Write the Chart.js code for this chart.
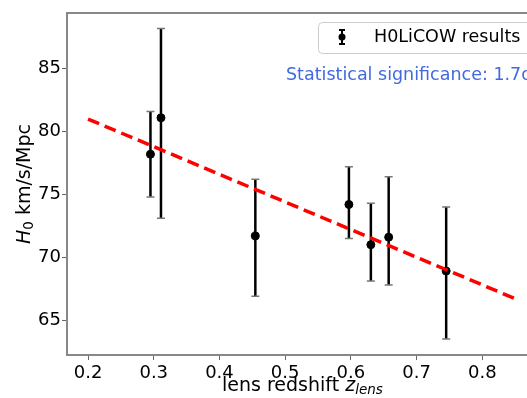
<!DOCTYPE html>
<html>
<head>
<meta charset="utf-8">
<script src="https://cdn.jsdelivr.net/npm/chart.js@4/dist/chart.umd.min.js"></script>
<style>
  html, body { margin: 0; padding: 0; background: #fff; overflow: hidden; }
  #wrap { width: 527px; height: 398px; }
</style>
</head>
<body>
<div id="wrap"><canvas id="h0Chart" width="527" height="398"></canvas></div>
<script>
// H0LiCOW lenses: redshift, H0 and asymmetric errors
const zLens = [0.295, 0.311, 0.4546, 0.597, 0.6304, 0.6575, 0.745];
const h0 = [78.2, 81.1, 71.7, 74.2, 71.0, 71.6, 68.9];
const errUp = [3.4, 7.1, 4.5, 3.0, 3.3, 4.8, 5.1];
const errDown = [3.4, 8.0, 4.8, 2.7, 2.9, 3.8, 5.4];

// fitted trend (red dashed)
const fitZ = [0.2, 0.85];
const fitH0 = [81.0, 66.7];

const xTicks = [0.2, 0.3, 0.4, 0.5, 0.6, 0.7, 0.8];
const yTicks = [65, 70, 75, 80, 85];

const FONT = "'DejaVu Sans', sans-serif";

var errorBars = {
  id: 'errorBars',
  beforeDatasetsDraw(chart) {
    var ctx = chart.ctx;
    var xs = chart.scales.x, ys = chart.scales.y;
    ctx.save();
    for (var i = 0; i < zLens.length; i++) {
      var px = xs.getPixelForValue(zLens[i]);
      var top = ys.getPixelForValue(h0[i] + errUp[i]);
      var bot = ys.getPixelForValue(h0[i] - errDown[i]);
      ctx.strokeStyle = '#000';
      ctx.lineWidth = 2.5;
      ctx.beginPath();
      ctx.moveTo(px, top);
      ctx.lineTo(px, bot);
      ctx.stroke();
      ctx.strokeStyle = '#777';
      ctx.lineWidth = 1.5;
      ctx.beginPath();
      ctx.moveTo(px - 4, top); ctx.lineTo(px + 4, top);
      ctx.moveTo(px - 4, bot); ctx.lineTo(px + 4, bot);
      ctx.stroke();
    }
    ctx.restore();
  }
};

var decorations = {
  id: 'decorations',
  afterDraw(chart) {
    var ctx = chart.ctx;
    var a = chart.chartArea;
    ctx.save();
    // top spine
    ctx.strokeStyle = '#888';
    ctx.lineWidth = 2;
    ctx.beginPath();
    ctx.moveTo(a.left - 1, a.top);
    ctx.lineTo(chart.width, a.top);
    ctx.stroke();

    // legend box
    var lx = 318, ly = 22, lw = 230, lh = 31;
    ctx.fillStyle = 'rgba(255,255,255,0.9)';
    ctx.strokeStyle = '#ccc';
    ctx.lineWidth = 1;
    ctx.beginPath();
    ctx.roundRect(lx + 0.5, ly + 0.5, lw, lh, 4);
    ctx.fill();
    ctx.stroke();
    // legend marker
    var mx = 342, my = 37;
    ctx.strokeStyle = '#000';
    ctx.lineWidth = 2;
    ctx.beginPath();
    ctx.moveTo(mx, my - 7); ctx.lineTo(mx, my + 7);
    ctx.moveTo(mx - 3, my - 7); ctx.lineTo(mx + 3, my - 7);
    ctx.moveTo(mx - 3, my + 7); ctx.lineTo(mx + 3, my + 7);
    ctx.stroke();
    ctx.fillStyle = '#000';
    ctx.beginPath();
    ctx.arc(mx, my, 3.5, 0, Math.PI * 2);
    ctx.fill();
    ctx.font = '17.5px ' + FONT;
    ctx.textBaseline = 'middle';
    ctx.textAlign = 'left';
    ctx.fillText('H0LiCOW results', 374, 37);

    // significance note
    ctx.fillStyle = '#4169E1';
    ctx.font = '17.5px ' + FONT;
    ctx.fillText('Statistical significance: 1.7\u03C3', 286, 75);

    // x axis title
    ctx.fillStyle = '#000';
    var tx = 222, ty = 386;
    ctx.font = '19px ' + FONT;
    ctx.fillText('lens redshift ', tx, ty);
    tx += ctx.measureText('lens redshift ').width;
    ctx.font = 'italic 19px ' + FONT;
    ctx.fillText('z', tx, ty);
    tx += ctx.measureText('z').width;
    ctx.font = 'italic 13.5px ' + FONT;
    ctx.fillText('lens', tx, ty + 4);

    // y axis title (rotated)
    ctx.translate(25, 184);
    ctx.rotate(-Math.PI / 2);
    ctx.font = 'italic 19px ' + FONT;
    var w1 = ctx.measureText('H').width;
    ctx.font = '13.5px ' + FONT;
    var w2 = ctx.measureText('0').width;
    ctx.font = '19px ' + FONT;
    var w3 = ctx.measureText(' km/s/Mpc').width;
    var sx = -(w1 + w2 + w3) / 2;
    ctx.font = 'italic 19px ' + FONT;
    ctx.fillText('H', sx, 0);
    ctx.font = '13.5px ' + FONT;
    ctx.fillText('0', sx + w1, 4);
    ctx.font = '19px ' + FONT;
    ctx.fillText(' km/s/Mpc', sx + w1 + w2, 0);
    ctx.restore();
  }
};

var ctxH0 = document.getElementById('h0Chart').getContext('2d');

var h0Chart = new Chart(ctxH0, {
  type: 'scatter',
  data: {
    datasets: [{
      label: 'H0LiCOW results',
      data: zLens.map((z, i) => ({x: z, y: h0[i]})),
      backgroundColor: '#000',
      borderColor: '#000',
      pointRadius: 4,
      order: 2
    }, {
      type: 'line',
      label: 'fit',
      data: fitZ.map((z, i) => ({x: z, y: fitH0[i]})),
      borderColor: '#ff0000',
      borderWidth: 3.5,
      borderDash: [12, 6],
      pointRadius: 0,
      fill: false,
      order: 1
    }]
  },
  options: {
    responsive: false,
    animation: false,
    layout: { autoPadding: false, padding: { top: 13, left: 0, right: 0, bottom: 0 } },
    plugins: { legend: { display: false }, tooltip: { enabled: false } },
    scales: {
      x: {
        type: 'linear',
        min: 0.168,
        max: 0.868,
        afterFit: (s) => { s.height = 43; },
        afterBuildTicks: (s) => { s.ticks = xTicks.map(v => ({value: v})); },
        ticks: {
          color: '#000',
          font: { family: FONT, size: 18 },
          padding: 3,
          maxRotation: 0,
          callback: (v) => v.toFixed(1)
        },
        grid: { drawOnChartArea: false, drawTicks: true, tickLength: 5, color: '#666' },
        border: { display: true, color: '#888', width: 2 }
      },
      y: {
        min: 62.22,
        max: 89.44,
        afterFit: (s) => { s.width = 67; },
        afterBuildTicks: (s) => { s.ticks = yTicks.map(v => ({value: v})); },
        ticks: {
          color: '#000',
          font: { family: FONT, size: 18 },
          padding: 1,
          callback: (v) => String(v)
        },
        grid: { drawOnChartArea: false, drawTicks: true, tickLength: 5, color: '#666' },
        border: { display: true, color: '#888', width: 2 }
      }
    }
  },
  plugins: [errorBars, decorations]
});
</script>
</body>
</html>
